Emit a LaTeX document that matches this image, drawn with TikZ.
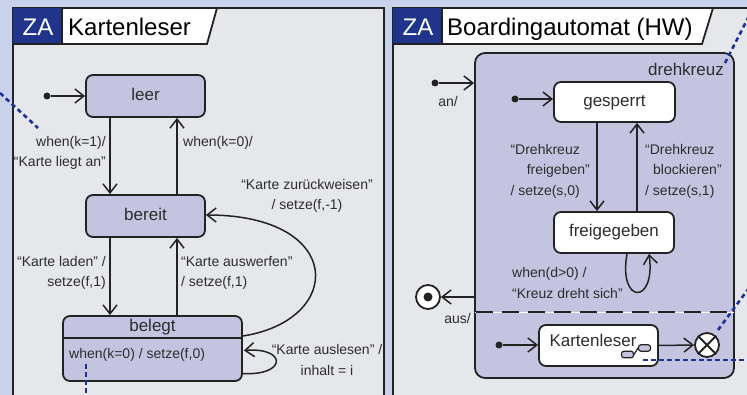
\documentclass[tikz,border=0pt]{standalone}
\usepackage{fontspec}
\setmainfont{Liberation Sans}
\usetikzlibrary{arrows.meta}
\definecolor{bgc}{RGB}{200,210,234}
\definecolor{panelc}{RGB}{230,231,235}
\definecolor{lav}{RGB}{196,196,225}
\definecolor{zablue}{RGB}{32,52,140}
\definecolor{dblue}{RGB}{30,50,150}
\definecolor{linec}{RGB}{35,35,35}
\definecolor{txt}{RGB}{45,45,45}
\newcommand\labfont{\fontsize{14}{20.5}\selectfont}
\newcommand\statefont{\fontsize{17}{20}\selectfont}
\newcommand\titlefont{\fontsize{24}{28}\selectfont}
\begin{document}
\begin{tikzpicture}[x=1pt,y=-1pt,
  arr/.style={draw=linec, line width=1.5pt, -{Straight Barb[length=9pt,width=14pt,line width=1.5pt]}},
  statebox/.style={draw=linec, line width=1.8pt, rounded corners=7pt, fill=lav, inner sep=0pt, font=\statefont, text=txt, text height=12.5pt, text depth=3.5pt},
  lab/.style={font=\labfont, text=txt, inner sep=0pt},
  initdot/.style={circle, fill=linec, inner sep=0pt, minimum size=7pt},
  blued/.style={draw=dblue, line width=2.6pt, dash pattern=on 4.5pt off 3.5pt},
  border/.style={draw=linec, line width=1.8pt},
]
\useasboundingbox (0,0) rectangle (747,395);
\fill[bgc] (0,0) rectangle (747,395);

% ---------------- left panel ----------------
\fill[panelc] (13,8) rectangle (384,395);
\draw[border] (13,396) -- (13,8) -- (384,8) -- (384,396);
\fill[zablue] (13,8) rectangle (62,44);
\filldraw[fill=white, border] (62,8) -- (217,8) -- (207,44) -- (62,44) -- cycle;
\draw[border] (13,44) -- (62,44);
\node[text=white, font=\titlefont, inner sep=0pt, anchor=base] (zaL) at (38,36) {ZA};
\node[text=black, font=\titlefont, inner sep=0pt, anchor=base west] (titleL) at (68,36) {Kartenleser};

\draw[blued] (0,93) -- (38,128);

\node[statebox, minimum width=119pt, minimum height=42pt] (leer) at (145.5,96) {leer};
\node[statebox, minimum width=119pt, minimum height=42pt] (bereit) at (145.5,216) {bereit};
\node[statebox, minimum width=179pt, minimum height=65pt] (belegt) at (152.5,348.5) {};
\draw[draw=linec, line width=1.6pt] (63,338) -- (242,338);
\node[font=\statefont, text=txt, inner sep=0pt] (belegtT) at (152.5,327) {belegt};
\node[lab, anchor=west] (belegtA) at (69,355) {when(k=0) / setze(f,0)};

\draw[blued] (86,364) -- (86,398);

\node[initdot] (i1) at (47,96) {};
\draw[arr] (i1) -- (i1 -| leer.west);

\draw[arr] ([xshift=-35.5pt]leer.south) -- ([xshift=-35.5pt]bereit.north);
\draw[arr] ([xshift=31.5pt]bereit.north) -- ([xshift=31.5pt]leer.south);
\draw[arr] ([xshift=-35.5pt]bereit.south) -- ([xshift=-42.5pt]belegt.north);
\draw[arr] ([xshift=24.5pt]belegt.north) -- ([xshift=31.5pt]bereit.south);
\draw[arr] ([yshift=12.5pt]belegt.east) .. controls (345,320) and (345,215) .. ([yshift=1pt]bereit.east);
\draw[arr] ([yshift=-25pt]belegt.east) .. controls (287,376) and (287,347) .. ([yshift=-2pt,xshift=1pt]belegt.east);

\node[lab, align=right, anchor=east] (l1) at (106,153) {when(k=1)/\\“Karte liegt an”};
\node[lab, anchor=west] (l2) at (183,143) {when(k=0)/};
\node[lab, align=center] (l3) at (307,196) {“Karte zurückweisen”\\/ setze(f,-1)};
\node[lab, align=right, anchor=east] (l4) at (106,273) {“Karte laden” /\\setze(f,1)};
\node[lab, align=left, anchor=west] (l5) at (181,273) {“Karte auswerfen”\\/ setze(f,1)};
\node[lab, align=center] (l6) at (327,360) {“Karte auslesen” /\\inhalt = i};

% ---------------- right panel ----------------
\fill[panelc] (393,8) rectangle (750,395);
\draw[border] (393,396) -- (393,8) -- (750,8);
\fill[zablue] (393,8) rectangle (442,44);
\filldraw[fill=white, border] (442,8) -- (713,8) -- (702,44) -- (442,44) -- cycle;
\draw[border] (393,44) -- (442,44);
\node[text=white, font=\titlefont, inner sep=0pt, anchor=base] (zaR) at (418,36) {ZA};
\node[text=black, font=\titlefont, inner sep=0pt, anchor=base west] (titleR) at (447,36) {Boardingautomat (HW)};

\node[statebox, rounded corners=10pt, minimum width=259pt, minimum height=325pt] (dk) at (604.5,215.5) {};
\node[font=\statefont, text=txt, inner sep=0pt, anchor=east] (dkT) at (724,69) {drehkreuz};
\draw[white, line width=0.8pt] (475,312) -- (734,312);
\draw[linec, line width=1.8pt, dash pattern=on 17pt off 9pt] (476,312) -- (733,312);

\node[statebox, fill=white, minimum width=121pt, minimum height=40pt] (gesp) at (614.5,102) {gesperrt};
\node[statebox, fill=white, minimum width=120pt, minimum height=41pt] (frei) at (614,232.5) {freigegeben};
\node[statebox, fill=white, minimum width=119pt, minimum height=41pt, text height=0pt, text depth=0pt] (kl) at (598.5,345.5) {};
\node[font=\statefont, text=txt, inner sep=0pt] (klT) at (593,340) {Kartenleser};
\node[draw=linec, fill=lav, rounded corners=2.5pt, minimum width=12pt, minimum height=6.5pt, inner sep=0pt, line width=1.2pt] (ic1) at (627.5,354.5) {};
\node[draw=linec, fill=lav, rounded corners=2.5pt, minimum width=12pt, minimum height=6.5pt, inner sep=0pt, line width=1.2pt] (ic2) at (644.5,348) {};
\draw[draw=linec, line width=1.2pt] (ic1.east) -- (ic2.west);

\node[initdot] (i2) at (435,83) {};
\draw[arr] (i2) -- (i2 -| dk.west);
\node[lab] (an) at (448,101) {an/};

\node[initdot] (i3) at (515,99) {};
\draw[arr] (i3) -- (i3 -| gesp.west);

\draw[arr] ([xshift=-17.5pt]gesp.south) -- ([xshift=-17pt]frei.north);
\draw[arr] ([xshift=23pt]frei.north) -- ([xshift=22.5pt]gesp.south);
\draw[arr] ([xshift=13pt]frei.south) .. controls (618,305) and (656,305) .. ([xshift=35pt]frei.south);

\node[lab, align=right, anchor=east] (l7) at (590,171) {“Drehkreuz\hspace*{10pt}\\freigeben”\\/ setze(s,0)\hspace*{10pt}};
\node[lab, align=left, anchor=west] (l8) at (645,171) {“Drehkreuz\\\hspace*{8pt}blockieren”\\/ setze(s,1)};
\node[lab, align=left, anchor=west] (l9) at (512,283) {when(d>0) /\\“Kreuz dreht sich”};

\node[circle, draw=linec, line width=1.8pt, fill=white, minimum size=24pt, inner sep=0pt] (fin) at (428,297) {};
\fill[linec] (fin.center) circle (4.5pt);
\draw[arr] (fin -| dk.west) -- (fin.east);
\node[lab, anchor=east] (aus) at (471,318) {aus/};

\node[initdot] (i4) at (499,345) {};
\draw[arr] (i4) -- (i4 -| kl.west);
\node[circle, draw=linec, line width=1.8pt, fill=white, minimum size=24pt, inner sep=0pt] (ex) at (707,345) {};
\draw[draw=linec, line width=1.8pt] (ex.north west) -- (ex.south east) (ex.north east) -- (ex.south west);
\draw[arr] (kl.east) -- (ex.west);

\draw[blued] (643,360) -- (750,360);
\draw[blued] (718,330) -- (749,288);
\draw[blued] (725,63) -- (749,16);
\end{tikzpicture}
\end{document}
